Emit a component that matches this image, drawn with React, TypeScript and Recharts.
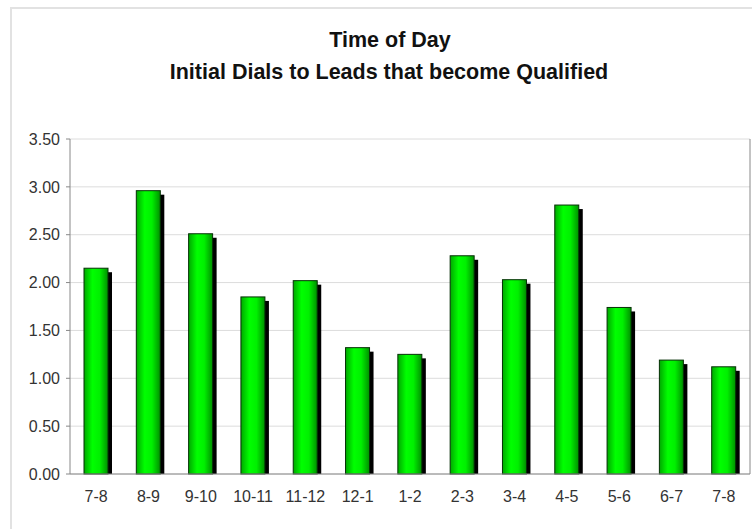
import React from "react";
import { BarChart, Bar, XAxis, YAxis, CartesianGrid, Customized } from "recharts";

const categories = ["7-8", "8-9", "9-10", "10-11", "11-12", "12-1", "1-2", "2-3", "3-4", "4-5", "5-6", "6-7", "7-8 "];
const values = [2.15, 2.96, 2.51, 1.85, 2.02, 1.32, 1.25, 2.28, 2.03, 2.81, 1.74, 1.19, 1.12];
const yTicks = [0, 0.5, 1, 1.5, 2, 2.5, 3, 3.5];
const titleLines = ["Time of Day", "Initial Dials to Leads that become Qualified"];

const data = categories.map((c, i) => ({ cat: c, value: values[i] }));

const FONT = "'Liberation Sans', Arial, sans-serif";

const BarShape = (props: any) => {
  const { x, y, width, height } = props;
  if (!height || height <= 0) return null;
  const s = 4;
  return (
    <g>
      <rect x={x + s} y={y + s} width={width} height={Math.max(0, height - s)} fill="#000" />
      <rect
        x={x}
        y={y}
        width={width}
        height={height}
        fill="url(#barGrad)"
        stroke="#063006"
        strokeWidth={1}
      />
    </g>
  );
};

const Decor = () => (
  <g>
    <defs>
      <linearGradient id="barGrad" x1="0" y1="0" x2="1" y2="0">
        <stop offset="0%" stopColor="#00a800" />
        <stop offset="35%" stopColor="#00ff00" />
        <stop offset="65%" stopColor="#00f000" />
        <stop offset="100%" stopColor="#009000" />
      </linearGradient>
    </defs>
    <rect x={11} y={8} width={800} height={600} fill="none" stroke="#e2e2e2" strokeWidth={2} />
    <text x={390} y={47} textAnchor="middle" fontFamily={FONT} fontWeight="bold" fontSize={21.5} fill="#111">
      {titleLines[0]}
    </text>
    <text x={389} y={79} textAnchor="middle" fontFamily={FONT} fontWeight="bold" fontSize={21.5} fill="#111">
      {titleLines[1]}
    </text>
  </g>
);

export default function App() {
  return (
    <div style={{ width: 752, height: 529, background: "#fff" }}>
      <style>{"body{margin:0}"}</style>
      <BarChart
        width={752}
        height={529}
        data={data}
        margin={{ top: 139, right: 0, bottom: 25, left: 0 }}
        barCategoryGap={0}
      >
        <Customized component={Decor} />
        <CartesianGrid vertical={false} stroke="#dcdcdc" />
        <XAxis
          dataKey="cat"
          axisLine={{ stroke: "#888" }}
          tickLine={false}
          tickSize={9}
          tickMargin={8}
          interval={0}
          tick={{ fontSize: 16, fontFamily: FONT, fill: "#333" }}
          height={30}
        />
        <YAxis
          domain={[0, 3.5]}
          ticks={yTicks}
          tickFormatter={(v: number) => v.toFixed(2)}
          width={70}
          axisLine={{ stroke: "#888" }}
          tickLine={{ stroke: "#888" }}
          tickSize={4}
          tickMargin={6}
          tick={{ fontSize: 16, fontFamily: FONT, fill: "#333" }}
          interval={0}
        />
        <YAxis
          yAxisId="r"
          orientation="right"
          width={2}
          tick={false}
          tickLine={false}
          axisLine={{ stroke: "#888" }}
          domain={[0, 3.5]}
        />
        <Bar dataKey="value" barSize={24} shape={BarShape} isAnimationActive={false} />
      </BarChart>
    </div>
  );
}
